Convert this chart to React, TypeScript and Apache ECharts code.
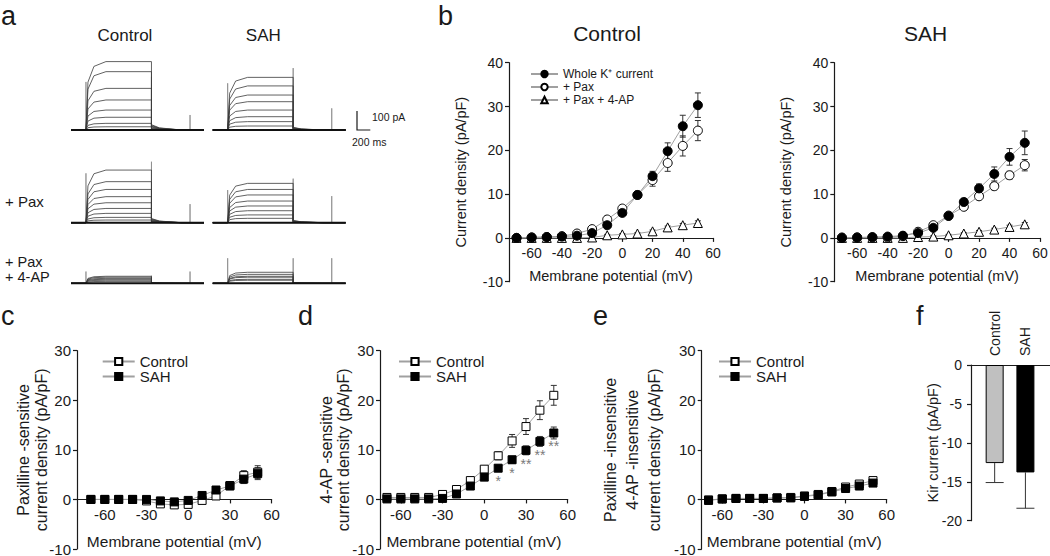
import React, { useEffect, useRef } from 'react';
import * as echarts from 'echarts';

const FONT = '"Liberation Sans", Arial, Helvetica, sans-serif';
const INK = '#1a1a1a';

// ---------- Panel a: current traces (pA) ----------
const T_ON = 225, T_END = 1210, T_TICK = 1790, T_MAX = 2000;
const RISE_DT = [30, 120, 300];
const RISE_FRAC = [0.7, 0.93, 1];
const TAIL_DT = [120, 450];
const TAIL_FRAC = [0.4, 0];

const ctrlPlateau = [360, 307, 219, 158, 105, 67, 35, 17];
const ctrlTail = [28, 24, 20, 16, 12, 8, 5, 3];
const ctrlSpikes = [253, 280, 79];
const sahPlateau = [277, 232, 184, 149, 105, 70, 44, 21];
const sahTail = [14, 12, 10, 8, 6, 4, 3, 2];
const sahSpikes = [246, 326, 114];
const ctrlPaxPlateau = [277, 216, 175, 137, 105, 75, 49, 28, 14];
const ctrlPaxTail = [22, 19, 16, 13, 10, 7, 5, 3, 2];
const ctrlPaxSpikes = [260, 321, 98];
const sahPaxPlateau = [207, 175, 146, 114, 88, 63, 41, 23];
const sahPaxTail = [12, 10, 8, 7, 5, 4, 3, 2];
const sahPaxSpikes = [172, 232, 140];
const ctrlPax4apPlateau = [37, 32, 26, 21, 16, 10];
const ctrlPax4apTail = [3, 2, 2, 1, 1, 1];
const ctrlPax4apSpikes = [62, 40, 62];
const sahPax4apPlateau = [58, 47, 37, 32, 21, 16];
const sahPax4apTail = [3, 2, 2, 1, 1, 1];
const sahPax4apSpikes = [132, 132, 132];

// ---------- IV data ----------
const voltages = [-70, -60, -50, -40, -30, -20, -10, 0, 10, 20, 30, 40, 50];

const bCtrlWhole = [0, 0.1, 0.2, 0.3, 0.5, 1.1, 2.9, 5.7, 9.8, 14.1, 19.8, 25.5, 30.3];
const bCtrlWholeErr = [0.1, 0.1, 0.1, 0.1, 0.2, 0.3, 0.5, 0.6, 0.8, 1.1, 1.9, 2.5, 2.8];
const bCtrlPax = [0, 0.1, 0.2, 0.4, 1.0, 2.0, 4.2, 6.7, 9.8, 13.2, 17.1, 21.0, 24.5];
const bCtrlPaxErr = [0.1, 0.1, 0.1, 0.1, 0.2, 0.3, 0.5, 0.6, 0.8, 1.4, 1.9, 2.3, 2.3];
const bCtrlPax4ap = [0, 0, 0, 0, 0, 0.1, 0.6, 0.8, 1.0, 1.5, 2.4, 2.9, 3.4];
const bCtrlPax4apErr = [0.1, 0.1, 0.1, 0.1, 0.1, 0.1, 0.2, 0.2, 0.2, 0.3, 0.3, 0.4, 0.5];

const bSahWhole = [0, 0.1, 0.2, 0.3, 0.5, 1.1, 2.3, 5.0, 8.2, 11.3, 14.6, 18.5, 21.7];
const bSahWholeErr = [0.1, 0.1, 0.1, 0.1, 0.2, 0.3, 0.5, 0.5, 0.7, 1.0, 1.6, 1.9, 2.7];
const bSahPax = [0.1, 0.1, 0.1, 0.1, 0.4, 1.4, 2.9, 5.1, 7.1, 9.5, 11.8, 14.3, 16.6];
const bSahPaxErr = [0.1, 0.1, 0.1, 0.1, 0.2, 0.3, 0.5, 0.5, 0.6, 0.7, 0.8, 0.9, 1.3];
const bSahPax4ap = [0, 0, 0, 0, 0, 0.2, 0.3, 0.6, 1.0, 1.4, 1.9, 2.5, 3.1];
const bSahPax4apErr = [0.1, 0.1, 0.1, 0.1, 0.1, 0.1, 0.2, 0.2, 0.2, 0.3, 0.3, 0.4, 0.4];

const cCtrl = [0, 0, 0, 0, -0.3, -0.9, -1.1, -1.0, -0.2, 0.7, 2.8, 4.8, 5.5];
const cCtrlErr = [0.1, 0.1, 0.1, 0.1, 0.2, 0.3, 0.3, 0.4, 0.5, 0.7, 0.8, 1.0, 1.3];
const cSah = [0, 0, 0, 0, 0, -0.3, -0.5, -0.2, 0.8, 1.9, 2.7, 4.1, 5.2];
const cSahErr = [0.1, 0.1, 0.1, 0.1, 0.2, 0.3, 0.3, 0.4, 0.4, 0.5, 0.7, 0.9, 1.2];

const dCtrl = [0.4, 0.4, 0.4, 0.4, 1.0, 2.0, 3.8, 6.1, 8.8, 11.8, 14.7, 18.0, 21.0];
const dCtrlErr = [0.1, 0.1, 0.1, 0.1, 0.2, 0.3, 0.4, 0.5, 0.8, 1.3, 1.6, 1.9, 2.0];
const dSah = [0.1, 0.1, 0.1, 0.1, 0.2, 1.1, 2.7, 4.5, 6.3, 8.0, 9.9, 11.7, 13.4];
const dSahErr = [0.1, 0.1, 0.1, 0.1, 0.2, 0.3, 0.4, 0.5, 0.6, 0.7, 0.9, 1.0, 1.2];
const dSigV = [10, 20, 30, 40, 50];
const dSigY = [3.7, 5.3, 7.2, 8.9, 10.7];
const dSigText = ['*', '*', '**', '**', '**'];

const eCtrl = [-0.1, 0.1, 0.2, 0.2, 0.2, 0.3, 0.4, 0.7, 1.0, 1.6, 2.5, 3.1, 3.8];
const eCtrlErr = [0.1, 0.1, 0.1, 0.1, 0.1, 0.1, 0.1, 0.2, 0.2, 0.2, 0.3, 0.3, 0.4];
const eSah = [-0.2, 0.1, 0.2, 0.2, 0.2, 0.3, 0.3, 0.6, 0.9, 1.5, 2.2, 2.7, 3.3];
const eSahErr = [0.1, 0.1, 0.1, 0.1, 0.1, 0.1, 0.1, 0.2, 0.2, 0.2, 0.3, 0.3, 0.4];

const fCats = ['Control', 'SAH'];
const fMeans = [-12.6, -13.8];
const fErr = [2.5, 4.6];

const bTicks = [-60, -40, -20, 0, 20, 40, 60];
const cdeTicks = [-60, -30, 0, 30, 60];

// ---------- helpers ----------
function sweep(p: number, tail: number) {
  const pts: number[][] = [[0, 0], [T_ON, 0]];
  RISE_DT.forEach((dt, k) => pts.push([T_ON + dt, p * RISE_FRAC[k]]));
  pts.push([T_END, p], [T_END, tail]);
  TAIL_DT.forEach((dt, k) => pts.push([T_END + dt, tail * TAIL_FRAC[k]]));
  pts.push([T_MAX, 0]);
  return pts;
}
function spikePts(s: number[]) {
  return [[0, 0], [T_ON, 0], [T_ON, s[0]], [T_ON, 0], [T_END, 0], [T_END, s[1]], [T_END, 0],
    [T_TICK, 0], [T_TICK, s[2]], [T_TICK, 0], [T_MAX, 0]];
}

function errRender(capW: number, downOnly: boolean, color: string) {
  return (params: any, api: any) => {
    const x = api.value(0), y = api.value(1), e = api.value(2);
    const hi = api.coord([x, downOnly ? y : y + e]);
    const lo = api.coord([x, y - e]);
    const st = { stroke: color, lineWidth: 1 };
    const children: any[] = [
      { type: 'line', shape: { x1: hi[0], y1: hi[1], x2: lo[0], y2: lo[1] }, style: st },
      { type: 'line', shape: { x1: lo[0] - capW / 2, y1: lo[1], x2: lo[0] + capW / 2, y2: lo[1] }, style: st },
    ];
    if (!downOnly) children.push({ type: 'line', shape: { x1: hi[0] - capW / 2, y1: hi[1], x2: hi[0] + capW / 2, y2: hi[1] }, style: st });
    return { type: 'group', children };
  };
}

function buildOption() {
  const grids: any[] = [];
  const xAxes: any[] = [];
  const yAxes: any[] = [];
  const series: any[] = [];
  const G = { containLabel: false, outerBoundsMode: 'none' };

  // Panel a blocks
  const PXPA = 0.19;
  const blocks = [
    { left: 71, base: 130, plateau: ctrlPlateau, tail: ctrlTail, spikes: ctrlSpikes },
    { left: 212.7, base: 130, plateau: sahPlateau, tail: sahTail, spikes: sahSpikes },
    { left: 71, base: 222.7, plateau: ctrlPaxPlateau, tail: ctrlPaxTail, spikes: ctrlPaxSpikes },
    { left: 212.7, base: 222.7, plateau: sahPaxPlateau, tail: sahPaxTail, spikes: sahPaxSpikes },
    { left: 71, base: 283.3, plateau: ctrlPax4apPlateau, tail: ctrlPax4apTail, spikes: ctrlPax4apSpikes },
    { left: 212.7, base: 283.3, plateau: sahPax4apPlateau, tail: sahPax4apTail, spikes: sahPax4apSpikes },
  ];
  blocks.forEach((b, gi) => {
    grids.push({ ...G, left: b.left, top: b.base - 400 * PXPA, width: 133, height: 410 * PXPA });
    xAxes.push({ gridIndex: gi, type: 'value', min: 0, max: T_MAX, show: false });
    yAxes.push({ gridIndex: gi, type: 'value', min: -10, max: 400, show: false });
    series.push({
      type: 'line', name: 'spk' + gi, xAxisIndex: gi, yAxisIndex: gi, data: spikePts(b.spikes),
      symbol: 'none', silent: true, lineStyle: { color: '#8a8a8a', width: 0.8 }, z: 2,
    });
    b.plateau.forEach((p, k) => {
      series.push({
        type: 'line', name: 'tr' + gi + '_' + k, xAxisIndex: gi, yAxisIndex: gi, data: sweep(p, b.tail[k]),
        symbol: 'none', silent: true, lineStyle: { color: '#3a3a3a', width: 0.8 }, z: 3,
      });
    });
    series.push({
      type: 'line', name: 'base' + gi, xAxisIndex: gi, yAxisIndex: gi, data: [[0, 0], [T_MAX, 0]],
      symbol: 'none', silent: true, lineStyle: { color: '#111', width: 2 }, z: 4,
    });
  });

  // IV panels
  const ivPanels = [
    { grid: { left: 509, top: 62.7, width: 204, height: 219 }, xmin: -75, ymax: 40, ticks: bTicks, fs: 14,
      yName: 'Current density (pA/pF)', yGap: 40, yLH: 16, xGap: 31, lm: 8, ylm: 6 },
    { grid: { left: 834.3, top: 62.7, width: 205.7, height: 219 }, xmin: -75, ymax: 40, ticks: bTicks, fs: 14,
      yName: 'Current density (pA/pF)', yGap: 40, yLH: 16, xGap: 31, lm: 8, ylm: 6 },
    { grid: { left: 77, top: 350.7, width: 194.6, height: 198.3 }, xmin: -80, ymax: 30, ticks: cdeTicks, fs: 15,
      yName: 'Paxilline -sensitive\ncurrent density (pA/pF)', yGap: 27, yLH: 18, xGap: 34, lm: 8, ylm: 6 },
    { grid: { left: 380, top: 350.7, width: 187.7, height: 198.3 }, xmin: -75, ymax: 30, ticks: cdeTicks, fs: 15,
      yName: '4-AP -sensitive\ncurrent density (pA/pF)', yGap: 28, yLH: 17, xGap: 34, lm: 8, ylm: 6 },
    { grid: { left: 701.7, top: 350.7, width: 185, height: 198.3 }, xmin: -75, ymax: 30, ticks: cdeTicks, fs: 15,
      yName: 'Paxilline -insensitive\n4-AP -insensitive\ncurrent density (pA/pF)', yGap: 36, yLH: 22, xGap: 34, lm: 8, ylm: 6 },
  ];
  ivPanels.forEach((p, k) => {
    const gi = 6 + k;
    grids.push({ ...G, ...p.grid });
    // place the x axis on the zero line: shift it up from the grid bottom by the height of the negative range
    const zeroShift = p.grid.height * (0 - -10) / (p.ymax - -10);
    xAxes.push({
      gridIndex: gi, type: 'value', min: p.xmin, max: 60, position: 'bottom', offset: -zeroShift,
      axisLine: { onZero: false, lineStyle: { color: INK, width: 1.2 } },
      axisTick: { show: true, length: 4, customValues: p.ticks, lineStyle: { color: INK, width: 1.2 } },
      axisLabel: { customValues: p.ticks, fontSize: p.fs, color: INK, margin: p.lm, fontFamily: FONT },
      splitLine: { show: false },
      name: 'Membrane potential (mV)', nameLocation: 'middle', nameGap: p.xGap, nameMoveOverlap: false,
      nameTextStyle: { fontSize: p.fs + 0.5, color: INK, fontFamily: FONT },
    });
    yAxes.push({
      gridIndex: gi, type: 'value', min: -10, max: p.ymax, interval: 10,
      axisLine: { show: true, onZero: false, lineStyle: { color: INK, width: 1.2 } },
      axisTick: { show: true, length: 4, lineStyle: { color: INK, width: 1.2 } },
      axisLabel: { fontSize: p.fs, color: INK, margin: p.ylm, fontFamily: FONT },
      splitLine: { show: false },
      name: p.yName, nameLocation: 'middle', nameGap: p.yGap, nameMoveOverlap: false,
      nameTextStyle: { fontSize: k < 2 ? 14.5 : 16, lineHeight: p.yLH, color: INK, fontFamily: FONT },
    });
  });

  const LINE_GRAY = '#a0a0a0';
  function ivSeries(gi: number, name: string, vals: number[], errs: number[], symbol: string, filled: boolean, size: number) {
    series.push({
      type: 'custom', name: 'err_' + name + gi, xAxisIndex: gi, yAxisIndex: gi,
      data: voltages.map((v, i) => [v, vals[i], errs[i]]), encode: { x: 0, y: 1 },
      renderItem: errRender(6, false, '#333'), silent: true, z: 2,
    });
    series.push({
      type: 'line', name, xAxisIndex: gi, yAxisIndex: gi,
      data: voltages.map((v, i) => [v, vals[i]]),
      symbol, symbolSize: size, showAllSymbol: true,
      lineStyle: { color: LINE_GRAY, width: 1 },
      itemStyle: { color: filled ? '#000' : '#fff', borderColor: '#000', borderWidth: 1 },
      z: 3, silent: true,
    });
  }
  const W = 'Whole K⁺ current', P = '+ Pax', PA = '+ Pax + 4-AP';
  ivSeries(6, PA, bCtrlPax4ap, bCtrlPax4apErr, 'triangle', false, 9);
  ivSeries(6, P, bCtrlPax, bCtrlPaxErr, 'circle', false, 9);
  ivSeries(6, W, bCtrlWhole, bCtrlWholeErr, 'circle', true, 9);
  ivSeries(7, PA, bSahPax4ap, bSahPax4apErr, 'triangle', false, 9);
  ivSeries(7, P, bSahPax, bSahPaxErr, 'circle', false, 9);
  ivSeries(7, W, bSahWhole, bSahWholeErr, 'circle', true, 9);
  ivSeries(8, 'Control', cCtrl, cCtrlErr, 'rect', false, 8);
  ivSeries(8, 'SAH', cSah, cSahErr, 'rect', true, 8);
  ivSeries(9, 'Control', dCtrl, dCtrlErr, 'rect', false, 8);
  ivSeries(9, 'SAH', dSah, dSahErr, 'rect', true, 8);
  ivSeries(10, 'Control', eCtrl, eCtrlErr, 'rect', false, 8);
  ivSeries(10, 'SAH', eSah, eSahErr, 'rect', true, 8);

  // significance marks in d
  series.push({
    type: 'custom', name: 'sig', xAxisIndex: 9, yAxisIndex: 9,
    data: dSigV.map((v, i) => [v, dSigY[i], i]), encode: { x: 0, y: 1 }, silent: true, z: 4,
    renderItem: (params: any, api: any) => {
      const pt = api.coord([api.value(0), api.value(1)]);
      return {
        type: 'text', x: pt[0], y: pt[1],
        style: {
          text: dSigText[api.value(2)], fill: '#7a7a7a', fontSize: 14, fontFamily: FONT,
          textAlign: 'center', textVerticalAlign: 'middle', align: 'center', verticalAlign: 'middle',
        },
      };
    },
  });

  // Panel f
  const fg = 11;
  grids.push({ ...G, left: 971, top: 365, width: 79, height: 155.7 });
  xAxes.push({
    gridIndex: fg, type: 'value', min: 0.23, max: 2.8, position: 'top',
    axisLine: { onZero: false, lineStyle: { color: INK, width: 1.2 } },
    axisTick: { show: false },
    axisLabel: { show: false },
    splitLine: { show: false },
  });
  yAxes.push({
    gridIndex: fg, type: 'value', min: -20, max: 0, interval: 5,
    axisLine: { show: true, onZero: false, lineStyle: { color: INK, width: 1.2 } },
    axisTick: { show: true, length: 4, lineStyle: { color: INK, width: 1.2 } },
    axisLabel: { fontSize: 14, color: INK, margin: 9, fontFamily: FONT },
    splitLine: { show: false },
    name: 'Kir current (pA/pF)', nameLocation: 'middle', nameGap: 31, nameMoveOverlap: false,
    nameTextStyle: { fontSize: 14.5, color: INK, fontFamily: FONT },
  });
  series.push({
    type: 'custom', name: 'ferr', xAxisIndex: fg, yAxisIndex: fg,
    data: fCats.map((c, i) => [i + 1, fMeans[i], fErr[i]]), encode: { x: 0, y: 1 },
    renderItem: errRender(18, true, '#333'), silent: true, z: 1,
  });
  series.push({
    type: 'bar', name: 'Kir', xAxisIndex: fg, yAxisIndex: fg, barWidth: 18, silent: true, z: 3,
    data: fCats.map((c, i) => ({ value: [i + 1, fMeans[i]], itemStyle: { color: i === 0 ? '#c0c0c0' : '#000' } })),
    itemStyle: { borderColor: '#000', borderWidth: 1 },
  });
  // category labels of f, rotated, above the zero line
  series.push({
    type: 'custom', name: 'fcat', xAxisIndex: fg, yAxisIndex: fg, silent: true, z: 4, clip: false,
    data: fCats.map((c, i) => [i + 1, 0, i]), encode: { x: 0, y: 1 },
    renderItem: (params: any, api: any) => {
      const pt = api.coord([api.value(0), 0]);
      return {
        type: 'text', x: pt[0], y: pt[1] - 9, rotation: Math.PI / 2,
        style: {
          text: fCats[api.value(2)], fill: INK, fontSize: 14, fontFamily: FONT,
          textAlign: 'left', textVerticalAlign: 'middle', align: 'left', verticalAlign: 'middle',
        },
      };
    },
  });

  const legendCommon = {
    orient: 'vertical', padding: 0, selectedMode: false,
    textStyle: { color: INK, fontFamily: FONT },
  };
  const legend = [
    { ...legendCommon, data: [W, P, PA], left: 530, top: 68, itemWidth: 27, itemHeight: 8, itemGap: 1,
      textStyle: { ...legendCommon.textStyle, fontSize: 12 } },
    { ...legendCommon, data: ['Control', 'SAH'], left: 101.7, top: 354, itemWidth: 32, itemHeight: 9, itemGap: 0,
      textStyle: { ...legendCommon.textStyle, fontSize: 15 } },
    { ...legendCommon, data: ['Control', 'SAH'], left: 398, top: 354, itemWidth: 32, itemHeight: 9, itemGap: 0,
      textStyle: { ...legendCommon.textStyle, fontSize: 15 } },
    { ...legendCommon, data: ['Control', 'SAH'], left: 718, top: 354, itemWidth: 32, itemHeight: 9, itemGap: 0,
      textStyle: { ...legendCommon.textStyle, fontSize: 15 } },
  ];

  const txt = (text: string, x: number, y: number, size: number, align = 'left') => ({
    type: 'text', x, y, silent: true,
    style: {
      text, fill: INK, fontSize: size, fontFamily: FONT,
      textAlign: align, textVerticalAlign: 'middle', align, verticalAlign: 'middle',
    },
  });
  const graphic = [
    txt('a', 1, 16, 27), txt('b', 438, 16, 27), txt('c', 1, 316, 27), txt('d', 298, 316, 27),
    txt('e', 593, 316, 27), txt('f', 916, 316, 27),
    txt('Control', 125, 35, 17, 'center'), txt('SAH', 263.3, 35, 17, 'center'),
    txt('+ Pax', 5, 201.7, 15), txt('+ Pax', 5, 261.7, 14.5), txt('+ 4-AP', 5, 276.5, 14.5),
    txt('Control', 607, 33, 21, 'center'), txt('SAH', 925.5, 33, 21, 'center'),
    txt('100 pA', 372, 117, 10.5), txt('200 ms', 352, 142, 10.5),
    {
      type: 'polyline', silent: true,
      shape: { points: [[357, 111], [357, 130], [370.3, 130]] },
      style: { stroke: INK, lineWidth: 1.2, fill: 'none' },
    },
  ];

  return {
    animation: false,
    backgroundColor: '#fff',
    textStyle: { fontFamily: FONT },
    grid: grids,
    xAxis: xAxes,
    yAxis: yAxes,
    legend,
    series,
    graphic: { elements: graphic },
  };
}

export default function App() {
  const ref = useRef<HTMLDivElement>(null);
  useEffect(() => {
    document.body.style.margin = '0';
    const chart = echarts.init(ref.current as HTMLDivElement, null, { renderer: 'svg' });
    chart.setOption(buildOption() as any);
    return () => chart.dispose();
  }, []);
  return <div ref={ref} style={{ width: 1050, height: 556 }} />;
}
